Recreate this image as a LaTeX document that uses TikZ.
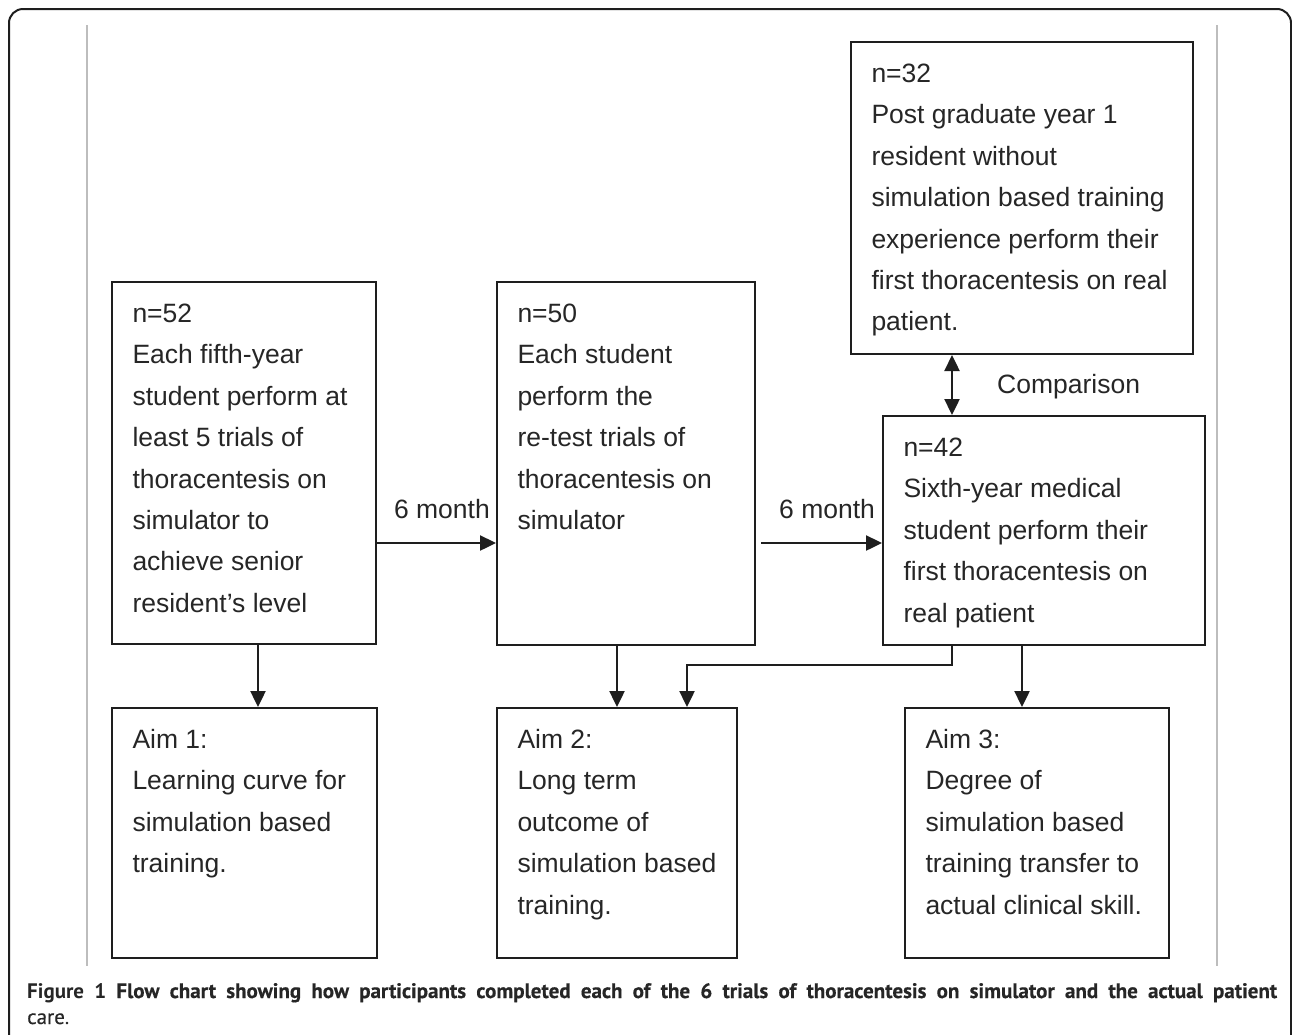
\documentclass[tikz,border=0pt]{standalone}
\usepackage{fontspec}
\usetikzlibrary{arrows.meta,calc}
\setmainfont{Liberation Sans}
\newfontfamily\boxfont{Liberation Sans}
\newfontfamily\capfont{PT Sans}
\newfontfamily\capmed[FakeBold=0.35]{PT Sans}
\definecolor{txtc}{HTML}{262626}
\definecolor{linec}{HTML}{1E1E1E}
\definecolor{grayc}{HTML}{BDBDBD}
\newcommand{\bt}[3]{\parbox[c][#1][t]{#2}{\rule{0pt}{40.5pt}#3}}
\tikzset{
  bx/.style={draw=linec, line width=2pt, anchor=north west, inner xsep=20.5pt, inner ysep=0pt,
    font={\boxfont\fontsize{26.5}{41.4}\selectfont}, text=txtc},
  lbl/.style={font={\boxfont\fontsize{26.5}{32}\selectfont}, text=txtc, inner sep=0pt},
  arr/.style={line width=2.4pt, draw=linec, -{Triangle[length=16pt,width=15pt]}},
  darr/.style={line width=2.4pt, draw=linec, {Triangle[length=16pt,width=15pt]}-{Triangle[length=16pt,width=15pt]}},
  guide/.style={draw=grayc, line width=2pt},
  captext/.style={anchor=base west, inner sep=0pt, text=txtc, font={\capmed\fontsize{21}{26}\selectfont}},
}
\begin{document}
\begin{tikzpicture}[x=1pt,y=-1pt]
\useasboundingbox (0,0) rectangle (1292,1034);
\clip (0,0) rectangle (1292,1034);
% outer frame
\draw[draw=linec, line width=2pt, rounded corners=14pt] (9,9) rectangle (1291,1080);
% gray guides
\coordinate (g1t) at (87,25); \coordinate (g1b) at (87,966);
\coordinate (g2t) at (1217,25); \coordinate (g2b) at (1217,966);
\draw[guide] (g1t) -- (g1b);
\draw[guide] (g2t) -- (g2b);
% boxes
\node[bx] (B1) at (111,281) {\bt{362pt}{223pt}{\mbox{n=52}\\\mbox{Each fifth-year}\\\mbox{student perform at}\\\mbox{least 5 trials of}\\\mbox{thoracentesis on}\\\mbox{simulator to}\\\mbox{achieve senior}\\\mbox{resident’s level}}};
\node[bx] (B2) at (496,281) {\bt{363pt}{217pt}{\mbox{n=50}\\\mbox{Each student}\\\mbox{perform the}\\\mbox{re-test trials of}\\\mbox{thoracentesis on}\\\mbox{simulator}}};
\node[bx] (B3) at (850,41) {\bt{312pt}{301pt}{\mbox{n=32}\\\mbox{Post graduate year 1}\\\mbox{resident without}\\\mbox{simulation based training}\\\mbox{experience perform their}\\\mbox{first thoracentesis on real}\\\mbox{patient.}}};
\node[bx] (B4) at (882,415) {\bt{229pt}{281pt}{\mbox{n=42}\\\mbox{Sixth-year medical}\\\mbox{student perform their}\\\mbox{first thoracentesis on}\\\mbox{real patient}}};
\node[bx] (A1) at (111,707) {\bt{250pt}{224pt}{\mbox{Aim 1:}\\\mbox{Learning curve for}\\\mbox{simulation based}\\\mbox{training.}}};
\node[bx] (A2) at (496,707) {\bt{250pt}{199pt}{\mbox{Aim 2:}\\\mbox{Long term}\\\mbox{outcome of}\\\mbox{simulation based}\\\mbox{training.}}};
\node[bx] (A3) at (904,707) {\bt{250pt}{223pt}{\mbox{Aim 3:}\\\mbox{Degree of}\\\mbox{simulation based}\\\mbox{training transfer to}\\\mbox{actual clinical skill.}}};
% helper coordinates
\coordinate (c1) at (258,0);
\coordinate (c2) at (617,0);
\coordinate (c3) at (1022,0);
\coordinate (cx) at (952,0);
\coordinate (r1) at (0,543);
\coordinate (s2) at (761,543);
\coordinate (e1) at (952,665);
\coordinate (e2) at (687,665);
% arrows
\draw[arr] (B1.south -| c1) -- (A1.north -| c1);
\draw[arr] (B2.south -| c2) -- (A2.north -| c2);
\draw[arr] (B4.south -| c3) -- (A3.north -| c3);
\draw[arr] (B4.south -| e1) -- (e1) -- (e2) -- (A2.north -| e2);
\draw[arr] (B1.east |- r1) -- (B2.west |- r1);
\draw[arr] (s2) -- (B4.west |- s2);
\draw[darr] (B3.south -| cx) -- (B4.north -| cx);
% labels
\node[lbl, anchor=base east] (m1) at (490,518) {6 month};
\node[lbl, anchor=base west] (m2) at (779,518) {6 month};
\node[lbl, anchor=base west] (cmp) at (997,393) {Comparison};
% caption
\node[captext] (cap1) at (27,998)
  {\makebox[1250pt][s]{\capfont\bfseries Figure 1\capmed\ Flow chart showing how participants completed each of the 6 trials of thoracentesis on simulator and the actual patient}};
\node[captext] (cap2) at (27,1024) {care\capfont.};
\end{tikzpicture}
\end{document}
